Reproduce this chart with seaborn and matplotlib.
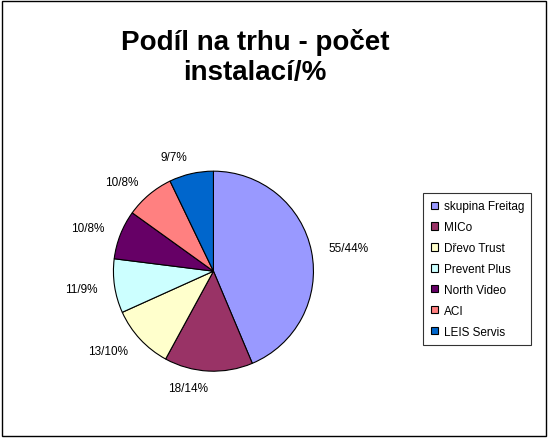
import matplotlib
matplotlib.use("Agg")
import matplotlib.pyplot as plt
import seaborn as sns
from matplotlib.patches import Rectangle

sns.set_style("white")
plt.rcParams['font.family'] = ['Liberation Sans', 'DejaVu Sans']
plt.rcParams['text.color'] = 'black'

# data
firms = ["skupina Freitag", "MICo", "Dřevo Trust", "Prevent Plus",
         "North Video", "ACI", "LEIS Servis"]
counts = [55, 18, 13, 11, 10, 10, 9]
percents = [44, 14, 10, 9, 8, 8, 7]
colors = sns.color_palette(["#9999FF", "#993366", "#FFFFCC", "#CCFFFF",
                            "#660066", "#FF8080", "#0066CC"])

labels = [f"{c}/{p}%" for c, p in zip(counts, percents)]

fig = plt.figure(figsize=(5.48, 4.39), dpi=100)
fig.patches.append(Rectangle((0.004, 0.004), 0.992, 0.992, transform=fig.transFigure,
                             fill=False, edgecolor="black", lw=1))

fig.text(0.465, 0.87, "Podíl na trhu - počet\ninstalací/%", ha="center", va="center",
         fontsize=20, fontweight="bold", linespacing=1.2, color="black")

ax = fig.add_axes([0.207, 0.152, 0.365, 0.456])
wedges, texts = ax.pie(counts, labels=labels, colors=colors, startangle=90,
                       counterclock=False, labeldistance=1.17,
                       wedgeprops=dict(edgecolor="black", linewidth=0.8),
                       textprops=dict(fontsize=8.5, color="black"))
ax.set_xlim(-1, 1)
ax.set_ylim(-1, 1)
ax.set_aspect("equal")

leg = fig.legend(wedges, firms, loc="center left", bbox_to_anchor=(0.762, 0.385),
                 frameon=True, fancybox=False, edgecolor="black", fontsize=8.5,
                 handlelength=0.6, handleheight=0.6, handletextpad=0.5,
                 labelspacing=0.75, borderpad=0.6)
leg.get_frame().set_linewidth(0.8)

fig.savefig("out.png", dpi=100)
